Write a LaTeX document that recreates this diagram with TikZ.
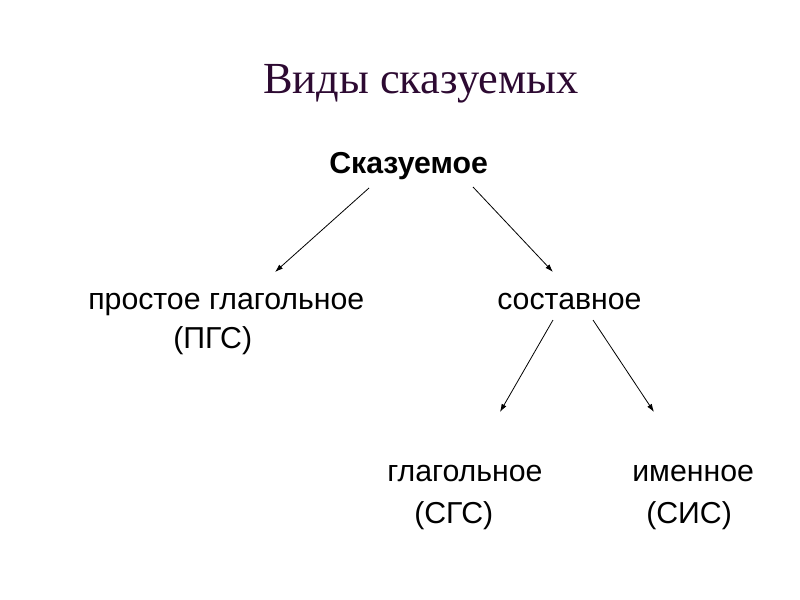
\documentclass[tikz,border=0pt]{standalone}
\usepackage{fontspec}
\setmainfont{Liberation Sans}
\newfontfamily\titlefont{Liberation Serif}
\usetikzlibrary{arrows.meta}
\definecolor{titlecol}{RGB}{45,10,50}
\tikzset{
  word/.style={inner sep=0pt, anchor=base west, font=\fontsize{22.7}{26}\selectfont},
  arr/.style={line width=0.6pt, -{Latex[length=6pt,width=4pt]}}
}
\begin{document}
\begin{tikzpicture}[x=0.75pt, y=-0.75pt]
  \useasboundingbox (0,0) rectangle (800,600);
  \node[inner sep=0pt, anchor=base west, text=titlecol, font=\titlefont\fontsize{33.3}{40}\selectfont] (title) at (263,93) {Виды сказуемых};
  \node[word, font=\bfseries\fontsize{22.7}{26}\selectfont] (skaz) at (329,173) {Сказуемое};
  \node[word] (prost) at (88,309) {простое глагольное};
  \node[word] (pgs) at (173,348) {(ПГС)};
  \node[word] (sost) at (497,309) {составное};
  \node[word] (glag) at (387,481) {глагольное};
  \node[word] (sgs) at (414,523) {(СГС)};
  \node[word] (imen) at (632,481) {именное};
  \node[word] (sis) at (646,523) {(СИС)};
  % arrow ends
  \coordinate (a1) at (369,188); \coordinate (b1) at (275,272);
  \coordinate (a2) at (473,187); \coordinate (b2) at (553,272);
  \coordinate (a3) at (553,320); \coordinate (b3) at (500,412);
  \coordinate (a4) at (593,320); \coordinate (b4) at (654,412);
  \foreach \i in {1,...,4} {\draw[arr] (a\i) -- (b\i);}
\end{tikzpicture}
\end{document}
